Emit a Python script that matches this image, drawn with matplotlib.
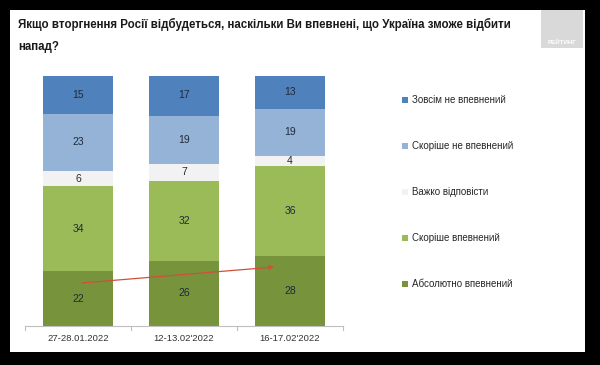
import numpy as np
import matplotlib.pyplot as plt
from matplotlib.patches import Rectangle

plt.rcParams['font.family'] = ['Liberation Sans', 'DejaVu Sans']

dates = ["27-28.01.2022", "12-13.02'2022", "16-17.02'2022"]
categories = ["Абсолютно впевнений", "Скоріше впевнений", "Важко відповісти",
              "Скоріше не впевнений", "Зовсім не впевнений"]
absolutely = [22, 26, 28]
rather_yes = [34, 32, 36]
hard_to_say = [6, 7, 4]
rather_no = [23, 19, 19]
not_at_all = [15, 17, 13]
series = [absolutely, rather_yes, hard_to_say, rather_no, not_at_all]
colors = ["#77933c", "#9bbb59", "#f2f2f2", "#95b3d7", "#4f81bd"]

W, H = 600, 365
fig = plt.figure(figsize=(6, 3.65), dpi=100, facecolor="black")

# white slide panel
fig.patches.append(Rectangle((10 / W, 1 - 352 / H), 575 / W, 342 / H,
                             transform=fig.transFigure, facecolor="white",
                             edgecolor="none", zorder=-10))
# logo box
fig.patches.append(Rectangle((541 / W, 1 - 48 / H), 42 / W, 38 / H,
                             transform=fig.transFigure, facecolor="#d9d9d9",
                             edgecolor="none", zorder=-5))
fig.text(562 / W, 1 - 42.5 / H, "РЕЙТИНГ", color="white", fontsize=4.5,
         fontweight="bold", ha="center", va="center")

fig.text(18 / W, 1 - 35.5 / H,
         "Якщо вторгнення Росії відбудеться, наскільки Ви впевнені, що Україна зможе відбити\nнапад?",
         fontsize=8.3, fontweight="bold", color="#1a1a1a", ha="left", va="center",
         linespacing=2.1)

ax = fig.add_axes([25 / W, 1 - 326 / H, 318 / W, 250 / H])
ax.set_facecolor("none")
x = np.arange(len(dates))
bottom = np.zeros(len(dates))
for vals, col in zip(series, colors):
    ax.bar(x, vals, width=0.66, bottom=bottom, color=col, edgecolor="none")
    for xi, b, v in zip(x, bottom, vals):
        ax.text(xi, b + v / 2, str(v), ha="center", va="center",
                fontsize=7.5, color="#1f2a3a")
    bottom += vals

ax.set_xlim(-0.5, 2.5)
ax.set_ylim(0, 100)
ax.set_yticks([])
for s in ["top", "right", "left"]:
    ax.spines[s].set_visible(False)
ax.spines["bottom"].set_color("#bfbfbf")
ax.set_xticks(x)
ax.set_xticklabels(dates, fontsize=6.8, color="#333333")
ax.tick_params(axis="x", length=0, pad=6)
for t in [-0.5, 0.5, 1.5, 2.5]:
    ax.plot([t, t], [0, -1.6], color="#bfbfbf", lw=0.8, clip_on=False)

ax.annotate("", xy=(1.85, 23.6), xytext=(0.035, 17.2),
            arrowprops=dict(arrowstyle="-|>", color="#d0503c", lw=0.9,
                            mutation_scale=7, shrinkA=0, shrinkB=0))

# legend
leg_y = [100, 146, 192, 238, 284]
for cat, col, yy in zip(categories[::-1], colors[::-1], leg_y):
    fig.patches.append(Rectangle((402 / W, 1 - (yy + 3) / H), 6 / W, 6 / H,
                                 transform=fig.transFigure, facecolor=col,
                                 edgecolor="none", zorder=2))
    fig.text(412 / W, 1 - yy / H, cat, fontsize=7.0, color="#262626",
             ha="left", va="center")

fig.savefig("out.png", dpi=100, facecolor="black")
